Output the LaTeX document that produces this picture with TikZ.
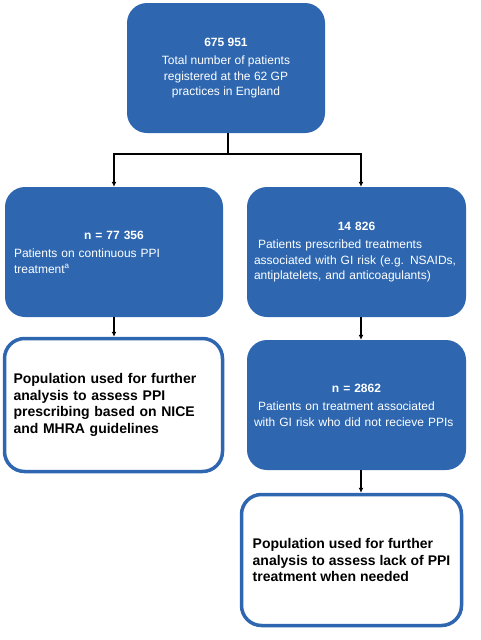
\documentclass[tikz,border=0pt]{standalone}
\usepackage{fontspec}
\setmainfont{Liberation Sans}
\usepackage{tikz}
\usetikzlibrary{arrows.meta,positioning,calc}
\definecolor{fblue}{HTML}{2E67B0}
\definecolor{fblued}{HTML}{2E67B0}
\tikzset{
  % filled blue count box, white text
  cnt/.style  = {rectangle, rounded corners=20pt, fill=fblue, draw=none, text=white,
                 inner sep=9pt, font=\fontsize{12}{15.5}\selectfont},
  % white outcome box, thick blue outline
  res/.style  = {rectangle, rounded corners=20pt, fill=white, draw=fblued, line width=3.5pt,
                 inner sep=9pt, font=\fontsize{14}{16.5}\selectfont\bfseries, text=black,
                 align=left},
  arr/.style  = {-{Latex[length=5pt,width=5pt]}, line width=1.3pt, black},
  lne/.style  = {line width=1.6pt, black},
}
\begin{document}
\begin{tikzpicture}[x=1pt,y=-1pt]
\useasboundingbox (0,0) rectangle (480,640);
% --- boxes -------------------------------------------------------------
\node[cnt, minimum width=198pt, minimum height=130pt, align=center] (total) at (226,68)
  {\textbf{675 951}\\[3pt]Total number of patients\\registered at the 62 GP\\practices in England};
\node[cnt, minimum width=218pt, minimum height=130pt, text width=200pt, align=left] (ppi) at (114,252)
  {{\centering\textbf{n = 77 356}\par}\vspace{3pt}Patients on continuous PPI\\treatment\textsuperscript{a}};
\node[cnt, minimum width=219pt, minimum height=130pt, text width=205pt, inner xsep=7pt, align=left] (risk) at (356.5,252)
  {{\centering\textbf{14 826}\par}\vspace{3pt}\ Patients prescribed treatments\\associated with GI risk (e.g. NSAIDs,\\antiplatelets, and anticoagulants)};
\node[cnt, minimum width=219pt, minimum height=130pt, text width=205pt, inner xsep=7pt, align=left] (noppi) at (356.5,405)
  {{\centering\textbf{n = 2862}\par}\vspace{3pt}\ Patients on treatment associated\\with GI risk who did not recieve PPIs};
\node[res, minimum width=218pt, minimum height=133pt, text width=200pt] (popA) at (113.5,405)
  {Population used for further\\analysis to assess PPI\\prescribing based on NICE\\and MHRA guidelines};
\node[res, minimum width=220pt, minimum height=131pt] (popB) at (351.5,560)
  {Population used for further\\analysis to assess lack of PPI\\treatment when needed};
% --- connectors --------------------------------------------------------
\coordinate (split) at (228,154);
\coordinate (rcol) at (361,154);
\draw[lne] (total.south -| split) -- (split);
\draw[lne] ($(split -| ppi)+(-0.7,0)$) -- ($(rcol)+(0.7,0)$);
\draw[arr] (split -| ppi) -- (ppi.north);
\draw[arr] (rcol) -- (risk.north -| rcol);
\draw[arr] (ppi.south) -- (popA.north -| ppi.south);
\draw[arr] (risk.south -| rcol) -- (noppi.north -| rcol);
\draw[arr] (noppi.south -| rcol) -- (popB.north -| rcol);
\end{tikzpicture}
\end{document}
